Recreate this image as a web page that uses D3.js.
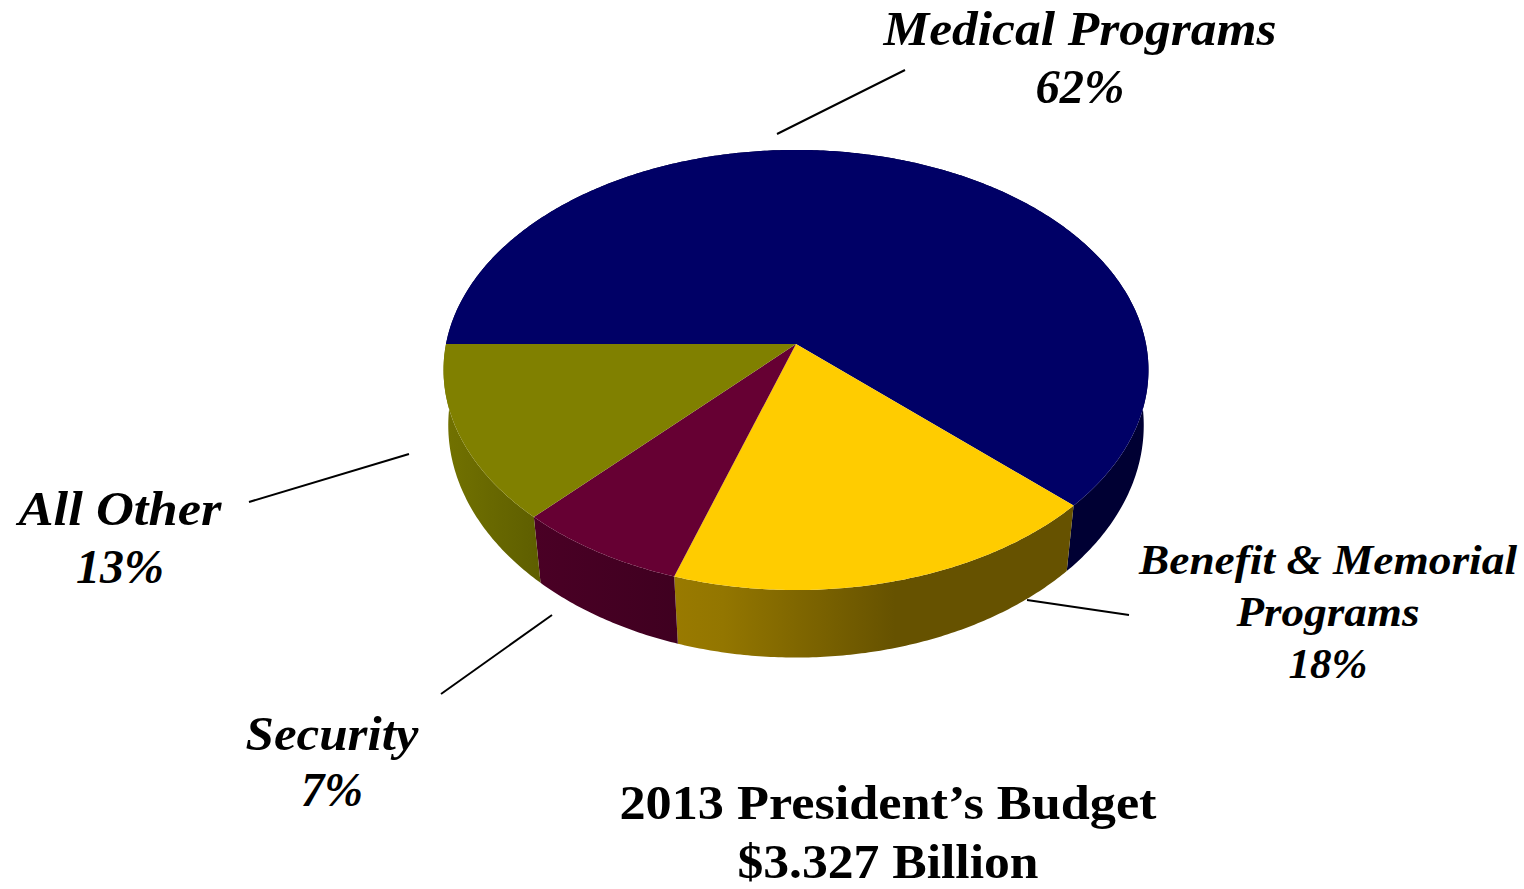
<!DOCTYPE html>
<html>
<head>
<meta charset="utf-8">
<script src="https://cdn.jsdelivr.net/npm/d3@7"></script>
<style>
  html, body { margin: 0; padding: 0; background: #fff; overflow: hidden; }
  svg { display: block; }
  text { font-family: "Liberation Serif", serif; font-weight: bold; fill: #000; text-anchor: middle; }
</style>
</head>
<body>
<div id="chart"></div>
<script>
// Data
const categories = ["Medical Programs", "Benefit & Memorial Programs", "Security", "All Other"];
const shares = [62, 18, 7, 13];
const budgetTitle = ["2013 President\u2019s Budget", "$3.327 Billion"];

// Colors per slice
const topColors = ["#000066", "#ffcc00", "#660033", "#808000"];
const sideColors = [
  [["0%", "#000033"], ["100%", "#000033"]],
  [["0%", "#997a00"], ["12%", "#937600"], ["55%", "#665200"], ["100%", "#665200"]],
  [["0%", "#4a0025"], ["100%", "#3f0020"]],
  [["0%", "#727200"], ["100%", "#5e5e00"]]
];

const width = 1524;
const height = 889;

const svg = d3.select("#chart").append("svg")
  .attr("width", width)
  .attr("height", height);

// Perspective disc: top face and bottom face of the pie
const topFace = { cx: 796, cy: 344, rx: 350, ry: 217, k: 0.118 };
const bottomFace = { cx: 796, cy: 402, rx: 346, ry: 230, k: 0.1 };

function project(face, angle) {
  const u = Math.sin(angle);
  const v = -Math.cos(angle);
  const s = 1 - face.k * v;
  return [face.cx + face.rx * u / s, face.cy + face.ry * v / s];
}

function arcPoints(face, a0, a1) {
  const n = Math.max(2, Math.ceil((a1 - a0) / 0.01));
  return d3.range(n + 1).map(i => project(face, a0 + (a1 - a0) * i / n));
}

// Slices start at the left side and go clockwise
const pie = d3.pie().sort(null).startAngle(-Math.PI / 2).endAngle(3 * Math.PI / 2);
const slices = pie(shares);
const line = d3.line();

// Leader lines go behind the pie
const leaders = [
  [[905, 70], [777, 134]],
  [[1129, 615], [1027, 600]],
  [[552, 615], [441, 694]],
  [[409, 454], [249, 502]]
];
svg.append("g").selectAll("path")
  .data(leaders)
  .enter()
  .append("path")
  .attr("d", d => line(d))
  .attr("stroke", "#000")
  .attr("stroke-width", 2)
  .attr("fill", "none");

// Horizontal gradients for the side walls
const defs = svg.append("defs");
const sideX = [[1000, 1150], [675, 1075], [534, 680], [444, 540]];
sideColors.forEach((stops, i) => {
  const grad = defs.append("linearGradient")
    .attr("id", "side" + i)
    .attr("gradientUnits", "userSpaceOnUse")
    .attr("x1", sideX[i][0]).attr("x2", sideX[i][1])
    .attr("y1", 0).attr("y2", 0);
  stops.forEach(s => grad.append("stop").attr("offset", s[0]).attr("stop-color", s[1]));
});

// Side walls
svg.append("g").selectAll("path")
  .data(slices)
  .enter()
  .append("path")
  .attr("d", d => {
    const pts = arcPoints(topFace, d.startAngle, d.endAngle)
      .concat(arcPoints(bottomFace, d.startAngle, d.endAngle).reverse());
    return line(pts) + "Z";
  })
  .attr("fill", (d, i) => `url(#side${i})`);

// Top faces
svg.append("g").selectAll("path")
  .data(slices)
  .enter()
  .append("path")
  .attr("d", d => {
    const pts = [[topFace.cx, topFace.cy]].concat(arcPoints(topFace, d.startAngle, d.endAngle));
    return line(pts) + "Z";
  })
  .attr("fill", (d, i) => topColors[i]);

// Labels
const labels = [
  { lines: ["Medical Programs", shares[0] + "%"], x: 1080, y: [45, 103], w: [393, 89], size: 48 },
  { lines: ["Benefit & Memorial", "Programs", shares[1] + "%"], x: 1328, y: [574, 626, 678], w: [378, 183, 79], size: 43 },
  { lines: ["Security", shares[2] + "%"], x: 332, y: [750, 806], w: [173, 62], size: 48 },
  { lines: ["All Other", shares[3] + "%"], x: 120, y: [525, 583], w: [203, 88], size: 48 }
];
labels.forEach(l => {
  l.lines.forEach((t, i) => {
    svg.append("text")
      .attr("x", l.x)
      .attr("y", l.y[i])
      .attr("font-size", l.size)
      .attr("font-style", "italic")
      .attr("textLength", l.w[i])
      .attr("lengthAdjust", "spacingAndGlyphs")
      .text(t);
  });
});

// Title, second line held up a little so it stays inside the picture
svg.selectAll(".title")
  .data(budgetTitle)
  .enter()
  .append("text")
  .attr("class", "title")
  .attr("x", 888)
  .attr("y", (d, i) => [819, 878][i])
  .attr("font-size", 48)
  .attr("textLength", (d, i) => [537, 301][i])
  .attr("lengthAdjust", "spacingAndGlyphs")
  .text(d => d);
</script>
</body>
</html>
